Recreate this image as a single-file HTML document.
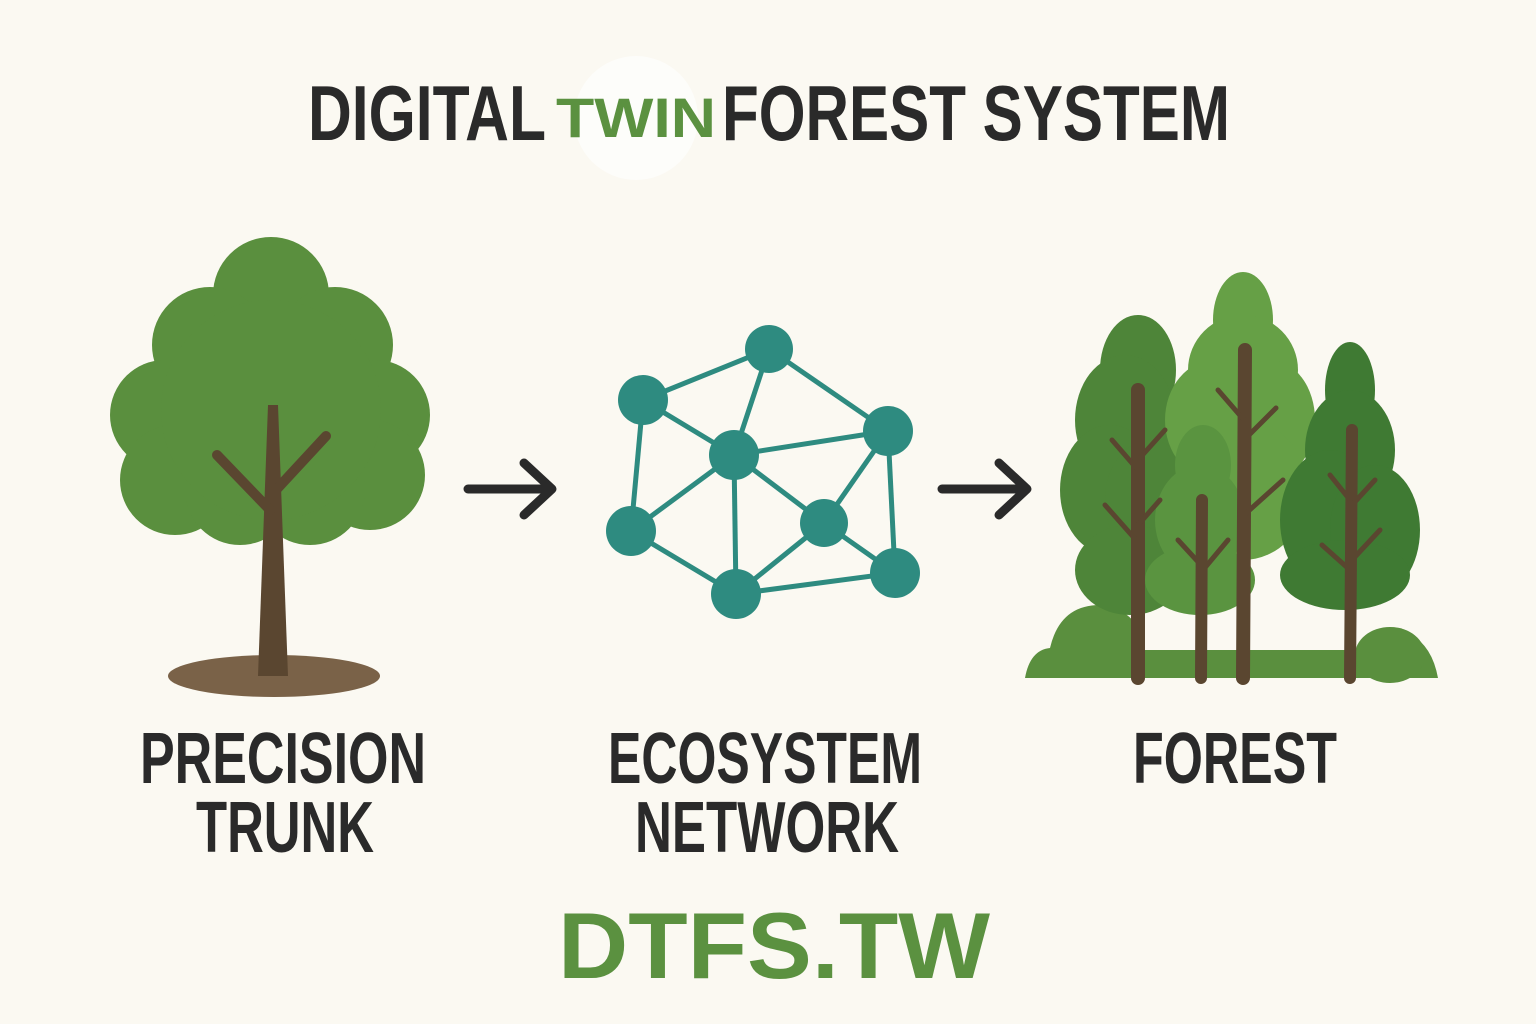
<!DOCTYPE html>
<html><head><meta charset="utf-8"><style>
html,body{margin:0;padding:0;background:#fbf9f2;}
svg{display:block}
text{font-family:"Liberation Sans Narrow","Liberation Sans",sans-serif;font-weight:bold}
</style></head><body>
<svg width="1536" height="1024" viewBox="0 0 1536 1024">
<rect width="1536" height="1024" fill="#fbf9f2"/>
<circle cx="636" cy="118" r="62" fill="#ffffff" opacity="0.6"/>
<text x="308" y="140" font-size="78" fill="#2a2a2a" textLength="238" lengthAdjust="spacingAndGlyphs">DIGITAL</text>
<text x="556" y="137" font-size="56" fill="#5b9140" textLength="160" lengthAdjust="spacingAndGlyphs">TWIN</text>
<text x="722" y="140" font-size="78" fill="#2a2a2a" textLength="508" lengthAdjust="spacingAndGlyphs">FOREST SYSTEM</text>

<!-- Tree 1 -->
<ellipse cx="274" cy="676" rx="106" ry="21" fill="#7a6248"/>
<g fill="#5a8f3e">
<circle cx="271" cy="295" r="58"/>
<circle cx="210" cy="345" r="58"/>
<circle cx="335" cy="345" r="58"/>
<circle cx="165" cy="415" r="55"/>
<circle cx="375" cy="415" r="55"/>
<circle cx="175" cy="480" r="55"/>
<circle cx="370" cy="475" r="55"/>
<circle cx="240" cy="490" r="55"/>
<circle cx="310" cy="490" r="55"/>
<circle cx="271" cy="410" r="110"/>
</g>
<polygon points="268,405 278,405 288,676 258,676" fill="#5a4630"/>
<path d="M217,455 L270,510 M326,436 L276,490" stroke="#5a4630" stroke-width="10" stroke-linecap="round"/>

<!-- Arrows -->
<g stroke="#2a2a2a" stroke-width="9" fill="none" stroke-linecap="round" stroke-linejoin="round">
<path d="M468,489 L550,489 M524,463 L552,489 L524,515"/>
<path d="M942,489 L1025,489 M999,463 L1027,489 L999,515"/>
</g>

<!-- Network -->
<g stroke="#2e8b80" stroke-width="5">
<line x1="643" y1="400" x2="769" y2="349"/><line x1="769" y1="349" x2="888" y2="431"/>
<line x1="643" y1="400" x2="734" y2="455"/><line x1="769" y1="349" x2="734" y2="455"/>
<line x1="734" y1="455" x2="888" y2="431"/><line x1="643" y1="400" x2="631" y2="531"/>
<line x1="734" y1="455" x2="631" y2="531"/><line x1="734" y1="455" x2="736" y2="594"/>
<line x1="734" y1="455" x2="824" y2="523"/><line x1="888" y1="431" x2="824" y2="523"/>
<line x1="888" y1="431" x2="895" y2="573"/><line x1="631" y1="531" x2="736" y2="594"/>
<line x1="824" y1="523" x2="736" y2="594"/><line x1="824" y1="523" x2="895" y2="573"/>
<line x1="736" y1="594" x2="895" y2="573"/>
</g>
<g fill="#2e8b80">
<circle cx="769" cy="349" r="24"/><circle cx="643" cy="400" r="25"/><circle cx="734" cy="455" r="25"/>
<circle cx="888" cy="431" r="25"/><circle cx="631" cy="531" r="25"/><circle cx="824" cy="523" r="24"/>
<circle cx="736" cy="594" r="25"/><circle cx="895" cy="573" r="25"/>
</g>

<!-- Forest -->
<g fill="#5a8f3e">
<path d="M1025,678 Q1030,650 1050,648 Q1060,605 1100,605 Q1140,610 1145,650 L1410,650 Q1420,630 1395,630 Q1430,635 1438,678 Z"/>
<ellipse cx="1390" cy="655" rx="35" ry="28"/>
</g>
<g fill="#4e8539">
<ellipse cx="1138" cy="370" rx="38" ry="55"/>
<ellipse cx="1125" cy="420" rx="50" ry="65"/>
<ellipse cx="1110" cy="490" rx="50" ry="65"/>
<ellipse cx="1150" cy="500" rx="45" ry="60"/>
<ellipse cx="1130" cy="570" rx="55" ry="45"/>
</g>
<g fill="#66a046">
<ellipse cx="1243" cy="320" rx="30" ry="48"/>
<ellipse cx="1243" cy="370" rx="55" ry="55"/>
<ellipse cx="1215" cy="420" rx="50" ry="60"/>
<ellipse cx="1270" cy="420" rx="45" ry="60"/>
<ellipse cx="1243" cy="490" rx="65" ry="70"/>
</g>
<g fill="#3f7a33">
<ellipse cx="1350" cy="390" rx="25" ry="48"/>
<ellipse cx="1350" cy="450" rx="45" ry="60"/>
<ellipse cx="1330" cy="520" rx="50" ry="70"/>
<ellipse cx="1375" cy="530" rx="45" ry="65"/>
<ellipse cx="1345" cy="575" rx="65" ry="35"/>
</g>
<g fill="#5a9440">
<ellipse cx="1203" cy="465" rx="28" ry="40"/>
<ellipse cx="1200" cy="520" rx="45" ry="55"/>
<ellipse cx="1200" cy="580" rx="55" ry="35"/>
</g>
<g stroke="#5a4630" stroke-linecap="round" fill="none">
<path d="M1138,390 L1138,678" stroke-width="14"/>
<path d="M1112,440 L1138,470 M1165,430 L1138,460 M1105,505 L1136,540 M1160,500 L1138,525" stroke-width="5"/>
<path d="M1245,350 L1243,678" stroke-width="14"/>
<path d="M1218,390 L1244,420 M1276,408 L1244,440 M1283,480 L1244,515" stroke-width="5"/>
<path d="M1352,430 L1350,678" stroke-width="12"/>
<path d="M1330,475 L1350,500 M1375,480 L1352,505 M1322,545 L1350,570 M1380,530 L1352,560" stroke-width="5"/>
<path d="M1202,500 L1201,678" stroke-width="12"/>
<path d="M1178,540 L1201,565 M1228,540 L1203,570" stroke-width="5"/>
</g>

<!-- Labels -->
<g fill="#2a2a2a" font-size="72" text-anchor="middle">
<text x="283" y="783" textLength="286" lengthAdjust="spacingAndGlyphs">PRECISION</text>
<text x="285" y="852" textLength="178" lengthAdjust="spacingAndGlyphs">TRUNK</text>
<text x="765" y="783" textLength="314" lengthAdjust="spacingAndGlyphs">ECOSYSTEM</text>
<text x="767" y="852" textLength="264" lengthAdjust="spacingAndGlyphs">NETWORK</text>
<text x="1235" y="783" textLength="204" lengthAdjust="spacingAndGlyphs">FOREST</text>
</g>
<text x="774" y="978" font-size="94" fill="#5b9140" text-anchor="middle" font-family="Liberation Sans" textLength="432" lengthAdjust="spacingAndGlyphs" style="font-family:'Liberation Sans',sans-serif">DTFS.TW</text>
</svg>
</body></html>
